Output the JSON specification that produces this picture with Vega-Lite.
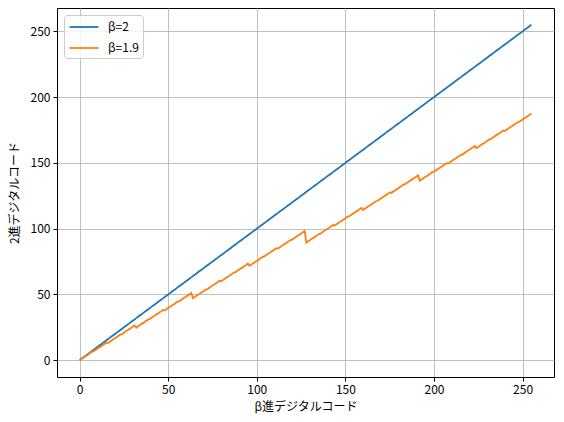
{
 "$schema": "https://vega.github.io/schema/vega-lite/v6.json",
 "width": 497, "height": 369,
 "autosize": {"type": "none"},
 "padding": {"left": 57, "top": 8, "right": 10, "bottom": 45},
 "background": "white",
 "config": {
  "font": "Noto Sans CJK JP",
  "view": {"stroke": "black", "strokeWidth": 1},
  "axis": {"domain": false, "tickColor": "black", "tickSize": 4, "labelFontSize": 12, "labelColor": "black", "labelFont": "Noto Sans CJK JP", "titleFont": "Noto Sans CJK JP", "titleFontSize": 12, "titleFontWeight": "normal", "titleColor": "black", "gridColor": "#b0b0b0", "gridWidth": 0.8, "labelPadding": 3}
 },
 "data": {"values": [
{"x":0,"b2":0,"b19":0},{"x":1,"b2":1,"b19":1},{"x":2,"b2":2,"b19":1.9},{"x":3,"b2":3,"b19":2.9},{"x":4,"b2":4,"b19":3.61},{"x":5,"b2":5,"b19":4.61},{"x":6,"b2":6,"b19":5.51},{"x":7,"b2":7,"b19":6.51},{"x":8,"b2":8,"b19":6.86},{"x":9,"b2":9,"b19":7.86},{"x":10,"b2":10,"b19":8.76},{"x":11,"b2":11,"b19":9.76},{"x":12,"b2":12,"b19":10.47},{"x":13,"b2":13,"b19":11.47},{"x":14,"b2":14,"b19":12.37},{"x":15,"b2":15,"b19":13.37},
{"x":16,"b2":16,"b19":13.03},{"x":17,"b2":17,"b19":14.03},{"x":18,"b2":18,"b19":14.93},{"x":19,"b2":19,"b19":15.93},{"x":20,"b2":20,"b19":16.64},{"x":21,"b2":21,"b19":17.64},{"x":22,"b2":22,"b19":18.54},{"x":23,"b2":23,"b19":19.54},{"x":24,"b2":24,"b19":19.89},{"x":25,"b2":25,"b19":20.89},{"x":26,"b2":26,"b19":21.79},{"x":27,"b2":27,"b19":22.79},{"x":28,"b2":28,"b19":23.5},{"x":29,"b2":29,"b19":24.5},{"x":30,"b2":30,"b19":25.4},{"x":31,"b2":31,"b19":26.4},
{"x":32,"b2":32,"b19":24.76},{"x":33,"b2":33,"b19":25.76},{"x":34,"b2":34,"b19":26.66},{"x":35,"b2":35,"b19":27.66},{"x":36,"b2":36,"b19":28.37},{"x":37,"b2":37,"b19":29.37},{"x":38,"b2":38,"b19":30.27},{"x":39,"b2":39,"b19":31.27},{"x":40,"b2":40,"b19":31.62},{"x":41,"b2":41,"b19":32.62},{"x":42,"b2":42,"b19":33.52},{"x":43,"b2":43,"b19":34.52},{"x":44,"b2":44,"b19":35.23},{"x":45,"b2":45,"b19":36.23},{"x":46,"b2":46,"b19":37.13},{"x":47,"b2":47,"b19":38.13},
{"x":48,"b2":48,"b19":37.79},{"x":49,"b2":49,"b19":38.79},{"x":50,"b2":50,"b19":39.69},{"x":51,"b2":51,"b19":40.69},{"x":52,"b2":52,"b19":41.4},{"x":53,"b2":53,"b19":42.4},{"x":54,"b2":54,"b19":43.3},{"x":55,"b2":55,"b19":44.3},{"x":56,"b2":56,"b19":44.65},{"x":57,"b2":57,"b19":45.65},{"x":58,"b2":58,"b19":46.55},{"x":59,"b2":59,"b19":47.55},{"x":60,"b2":60,"b19":48.26},{"x":61,"b2":61,"b19":49.26},{"x":62,"b2":62,"b19":50.16},{"x":63,"b2":63,"b19":51.16},
{"x":64,"b2":64,"b19":47.05},{"x":65,"b2":65,"b19":48.05},{"x":66,"b2":66,"b19":48.95},{"x":67,"b2":67,"b19":49.95},{"x":68,"b2":68,"b19":50.66},{"x":69,"b2":69,"b19":51.66},{"x":70,"b2":70,"b19":52.56},{"x":71,"b2":71,"b19":53.56},{"x":72,"b2":72,"b19":53.9},{"x":73,"b2":73,"b19":54.9},{"x":74,"b2":74,"b19":55.8},{"x":75,"b2":75,"b19":56.8},{"x":76,"b2":76,"b19":57.51},{"x":77,"b2":77,"b19":58.51},{"x":78,"b2":78,"b19":59.41},{"x":79,"b2":79,"b19":60.41},
{"x":80,"b2":80,"b19":60.08},{"x":81,"b2":81,"b19":61.08},{"x":82,"b2":82,"b19":61.98},{"x":83,"b2":83,"b19":62.98},{"x":84,"b2":84,"b19":63.69},{"x":85,"b2":85,"b19":64.69},{"x":86,"b2":86,"b19":65.59},{"x":87,"b2":87,"b19":66.59},{"x":88,"b2":88,"b19":66.94},{"x":89,"b2":89,"b19":67.94},{"x":90,"b2":90,"b19":68.84},{"x":91,"b2":91,"b19":69.84},{"x":92,"b2":92,"b19":70.55},{"x":93,"b2":93,"b19":71.55},{"x":94,"b2":94,"b19":72.45},{"x":95,"b2":95,"b19":73.45},
{"x":96,"b2":96,"b19":71.81},{"x":97,"b2":97,"b19":72.81},{"x":98,"b2":98,"b19":73.71},{"x":99,"b2":99,"b19":74.71},{"x":100,"b2":100,"b19":75.42},{"x":101,"b2":101,"b19":76.42},{"x":102,"b2":102,"b19":77.32},{"x":103,"b2":103,"b19":78.32},{"x":104,"b2":104,"b19":78.67},{"x":105,"b2":105,"b19":79.67},{"x":106,"b2":106,"b19":80.57},{"x":107,"b2":107,"b19":81.57},{"x":108,"b2":108,"b19":82.28},{"x":109,"b2":109,"b19":83.28},{"x":110,"b2":110,"b19":84.18},{"x":111,"b2":111,"b19":85.18},
{"x":112,"b2":112,"b19":84.84},{"x":113,"b2":113,"b19":85.84},{"x":114,"b2":114,"b19":86.74},{"x":115,"b2":115,"b19":87.74},{"x":116,"b2":116,"b19":88.45},{"x":117,"b2":117,"b19":89.45},{"x":118,"b2":118,"b19":90.35},{"x":119,"b2":119,"b19":91.35},{"x":120,"b2":120,"b19":91.7},{"x":121,"b2":121,"b19":92.7},{"x":122,"b2":122,"b19":93.6},{"x":123,"b2":123,"b19":94.6},{"x":124,"b2":124,"b19":95.31},{"x":125,"b2":125,"b19":96.31},{"x":126,"b2":126,"b19":97.21},{"x":127,"b2":127,"b19":98.21},
{"x":128,"b2":128,"b19":89.39},{"x":129,"b2":129,"b19":90.39},{"x":130,"b2":130,"b19":91.29},{"x":131,"b2":131,"b19":92.29},{"x":132,"b2":132,"b19":93.0},{"x":133,"b2":133,"b19":94.0},{"x":134,"b2":134,"b19":94.9},{"x":135,"b2":135,"b19":95.9},{"x":136,"b2":136,"b19":96.25},{"x":137,"b2":137,"b19":97.25},{"x":138,"b2":138,"b19":98.15},{"x":139,"b2":139,"b19":99.15},{"x":140,"b2":140,"b19":99.86},{"x":141,"b2":141,"b19":100.86},{"x":142,"b2":142,"b19":101.76},{"x":143,"b2":143,"b19":102.76},
{"x":144,"b2":144,"b19":102.42},{"x":145,"b2":145,"b19":103.42},{"x":146,"b2":146,"b19":104.32},{"x":147,"b2":147,"b19":105.32},{"x":148,"b2":148,"b19":106.03},{"x":149,"b2":149,"b19":107.03},{"x":150,"b2":150,"b19":107.93},{"x":151,"b2":151,"b19":108.93},{"x":152,"b2":152,"b19":109.28},{"x":153,"b2":153,"b19":110.28},{"x":154,"b2":154,"b19":111.18},{"x":155,"b2":155,"b19":112.18},{"x":156,"b2":156,"b19":112.89},{"x":157,"b2":157,"b19":113.89},{"x":158,"b2":158,"b19":114.79},{"x":159,"b2":159,"b19":115.79},
{"x":160,"b2":160,"b19":114.15},{"x":161,"b2":161,"b19":115.15},{"x":162,"b2":162,"b19":116.05},{"x":163,"b2":163,"b19":117.05},{"x":164,"b2":164,"b19":117.76},{"x":165,"b2":165,"b19":118.76},{"x":166,"b2":166,"b19":119.66},{"x":167,"b2":167,"b19":120.66},{"x":168,"b2":168,"b19":121.01},{"x":169,"b2":169,"b19":122.01},{"x":170,"b2":170,"b19":122.91},{"x":171,"b2":171,"b19":123.91},{"x":172,"b2":172,"b19":124.62},{"x":173,"b2":173,"b19":125.62},{"x":174,"b2":174,"b19":126.52},{"x":175,"b2":175,"b19":127.52},
{"x":176,"b2":176,"b19":127.18},{"x":177,"b2":177,"b19":128.18},{"x":178,"b2":178,"b19":129.08},{"x":179,"b2":179,"b19":130.08},{"x":180,"b2":180,"b19":130.79},{"x":181,"b2":181,"b19":131.79},{"x":182,"b2":182,"b19":132.69},{"x":183,"b2":183,"b19":133.69},{"x":184,"b2":184,"b19":134.04},{"x":185,"b2":185,"b19":135.04},{"x":186,"b2":186,"b19":135.94},{"x":187,"b2":187,"b19":136.94},{"x":188,"b2":188,"b19":137.65},{"x":189,"b2":189,"b19":138.65},{"x":190,"b2":190,"b19":139.55},{"x":191,"b2":191,"b19":140.55},
{"x":192,"b2":192,"b19":136.43},{"x":193,"b2":193,"b19":137.43},{"x":194,"b2":194,"b19":138.33},{"x":195,"b2":195,"b19":139.33},{"x":196,"b2":196,"b19":140.04},{"x":197,"b2":197,"b19":141.04},{"x":198,"b2":198,"b19":141.94},{"x":199,"b2":199,"b19":142.94},{"x":200,"b2":200,"b19":143.29},{"x":201,"b2":201,"b19":144.29},{"x":202,"b2":202,"b19":145.19},{"x":203,"b2":203,"b19":146.19},{"x":204,"b2":204,"b19":146.9},{"x":205,"b2":205,"b19":147.9},{"x":206,"b2":206,"b19":148.8},{"x":207,"b2":207,"b19":149.8},
{"x":208,"b2":208,"b19":149.47},{"x":209,"b2":209,"b19":150.47},{"x":210,"b2":210,"b19":151.37},{"x":211,"b2":211,"b19":152.37},{"x":212,"b2":212,"b19":153.08},{"x":213,"b2":213,"b19":154.08},{"x":214,"b2":214,"b19":154.98},{"x":215,"b2":215,"b19":155.98},{"x":216,"b2":216,"b19":156.32},{"x":217,"b2":217,"b19":157.32},{"x":218,"b2":218,"b19":158.22},{"x":219,"b2":219,"b19":159.22},{"x":220,"b2":220,"b19":159.93},{"x":221,"b2":221,"b19":160.93},{"x":222,"b2":222,"b19":161.83},{"x":223,"b2":223,"b19":162.83},
{"x":224,"b2":224,"b19":161.19},{"x":225,"b2":225,"b19":162.19},{"x":226,"b2":226,"b19":163.09},{"x":227,"b2":227,"b19":164.09},{"x":228,"b2":228,"b19":164.8},{"x":229,"b2":229,"b19":165.8},{"x":230,"b2":230,"b19":166.7},{"x":231,"b2":231,"b19":167.7},{"x":232,"b2":232,"b19":168.05},{"x":233,"b2":233,"b19":169.05},{"x":234,"b2":234,"b19":169.95},{"x":235,"b2":235,"b19":170.95},{"x":236,"b2":236,"b19":171.66},{"x":237,"b2":237,"b19":172.66},{"x":238,"b2":238,"b19":173.56},{"x":239,"b2":239,"b19":174.56},
{"x":240,"b2":240,"b19":174.23},{"x":241,"b2":241,"b19":175.23},{"x":242,"b2":242,"b19":176.13},{"x":243,"b2":243,"b19":177.13},{"x":244,"b2":244,"b19":177.84},{"x":245,"b2":245,"b19":178.84},{"x":246,"b2":246,"b19":179.74},{"x":247,"b2":247,"b19":180.74},{"x":248,"b2":248,"b19":181.09},{"x":249,"b2":249,"b19":182.09},{"x":250,"b2":250,"b19":182.99},{"x":251,"b2":251,"b19":183.99},{"x":252,"b2":252,"b19":184.7},{"x":253,"b2":253,"b19":185.7},{"x":254,"b2":254,"b19":186.6},{"x":255,"b2":255,"b19":187.6}
 ]},
 "encoding": {
  "x": {"field": "x", "type": "quantitative", "scale": {"domain": [-12.75, 267.75], "nice": false, "zero": false}, "axis": {"values": [0, 50, 100, 150, 200, 250], "title": "β進デジタルコード", "titlePadding": 6}}
 },
 "layer": [
  {"mark": {"type": "line", "strokeWidth": 1.8},
   "encoding": {
    "y": {"field": "b2", "type": "quantitative", "scale": {"domain": [-12.75, 267.75], "nice": false, "zero": false}, "axis": {"values": [0, 50, 100, 150, 200, 250], "title": "2進デジタルコード", "titlePadding": 9}},
    "color": {"datum": "β=2", "type": "nominal", "scale": {"domain": ["β=2", "β=1.9"], "range": ["#1f77b4", "#ff7f0e"]},
     "legend": {"title": null, "orient": "none", "legendX": 7, "legendY": 7, "fillColor": "rgba(255,255,255,0.8)", "strokeColor": "#cccccc", "cornerRadius": 3, "padding": 4, "symbolType": "M-2.07,0H2.07", "symbolSize": 196, "symbolStrokeWidth": 1.8, "symbolOffset": 8, "labelOffset": 16, "labelFontSize": 12, "labelFont": "Noto Sans CJK JP", "labelColor": "black", "rowPadding": 7}}
   }},
  {"mark": {"type": "line", "strokeWidth": 1.8},
   "encoding": {
    "y": {"field": "b19", "type": "quantitative"},
    "color": {"datum": "β=1.9", "type": "nominal"}
   }}
 ]
}
